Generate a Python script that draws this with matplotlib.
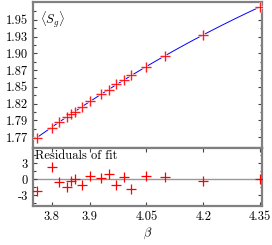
import numpy as np
import matplotlib
matplotlib.use("Agg")
import matplotlib.pyplot as plt
from matplotlib.ticker import MultipleLocator

plt.rcParams['font.family'] = ['cmr10', 'DejaVu Serif']
plt.rcParams['mathtext.fontset'] = 'cm'
plt.rcParams['axes.unicode_minus'] = False

# beta values and <S_g>
beta = [3.76, 3.80, 3.82, 3.84, 3.85, 3.86, 3.88, 3.90, 3.93, 3.95,
        3.97, 3.99, 4.01, 4.05, 4.10, 4.20, 4.35]
sg = [1.7679, 1.7835, 1.7928, 1.8006, 1.8044, 1.8084, 1.8162, 1.8251, 1.8356,
      1.8423, 1.8512, 1.8579, 1.8657, 1.8786, 1.8953, 1.9281, 1.9722]
resid = [-2.3, 2.2, -0.6, -1.5, -0.45, 0.05, -1.2, 0.5, 0.2, 0.95,
         -1.1, 0.3, -1.8, 0.5, 0.3, -0.45, 0.0]

xticks = [3.8, 3.9, 4.05, 4.2, 4.35]
xtick_labels = ['3.8', '3.9', '4.05', '4.2', '4.35']
yticks = list(1.7685 + 0.0262 * np.arange(8))
ytick_labels = ['1.77', '1.79', '1.82', '1.85', '1.87', '1.90', '1.93', '1.95']
rticks = [3, 0, -3]
rtick_labels = ['3', '0', '-3']

spine_col = '#808080'

fig = plt.figure(figsize=(2.72, 2.45), dpi=100)
ax1 = fig.add_axes([0.121, 0.396, 0.842, 0.596])
ax2 = fig.add_axes([0.121, 0.159, 0.842, 0.237])

# fit curve
coef = np.polyfit(beta, sg, 2)
xf = np.linspace(min(beta), max(beta), 200)
ax1.plot(xf, np.polyval(coef, xf), color='blue', lw=0.7, zorder=2)
ax1.scatter(beta, sg, marker='+', s=55, color='#ffc0c0', linewidths=1.8, zorder=3)
ax1.scatter(beta, sg, marker='+', s=45, color='red', linewidths=0.6, zorder=4)
ax1.text(0.03, 0.95, r'$\langle S_g\rangle$', transform=ax1.transAxes,
         ha='left', va='top', fontsize=9)

ax2.axhline(0, color='#999999', lw=1.0, zorder=1)
ax2.scatter(beta, resid, marker='+', s=45, color='red', linewidths=0.9, zorder=3)
ax2.text(0.01, 0.97, 'Residuals of fit', transform=ax2.transAxes,
         ha='left', va='top', fontsize=9)

for ax in (ax1, ax2):
    ax.set_xlim(3.75, 4.355)
    for s in ax.spines.values():
        s.set_color(spine_col)
        s.set_linewidth(1.6)
    ax.tick_params(direction='in', which='both', left=True, right=True,
                   top=True, bottom=True, labelsize=9, length=3, width=0.8,
                   color='#444444')
    ax.tick_params(which='minor', length=1.8)
    ax.set_xticks(xticks)

ax1.set_ylim(1.7518, 1.9796)
ax1.set_yticks(yticks)
ax1.set_yticklabels(ytick_labels)
ax1.set_yticks(list(np.array(yticks) + 0.0131), minor=True)
ax1.tick_params(axis='x', top=False, bottom=False, labelbottom=False)

ax2.set_ylim(-5.06, 5.8)
ax2.set_yticks(rticks)
ax2.set_yticklabels(rtick_labels)
ax2.yaxis.set_minor_locator(MultipleLocator(1.5))
ax2.set_xticklabels(xtick_labels)
ax2.set_xlabel(r'$\beta$', fontsize=9, labelpad=2)

fig.savefig('out.png', dpi=100)
